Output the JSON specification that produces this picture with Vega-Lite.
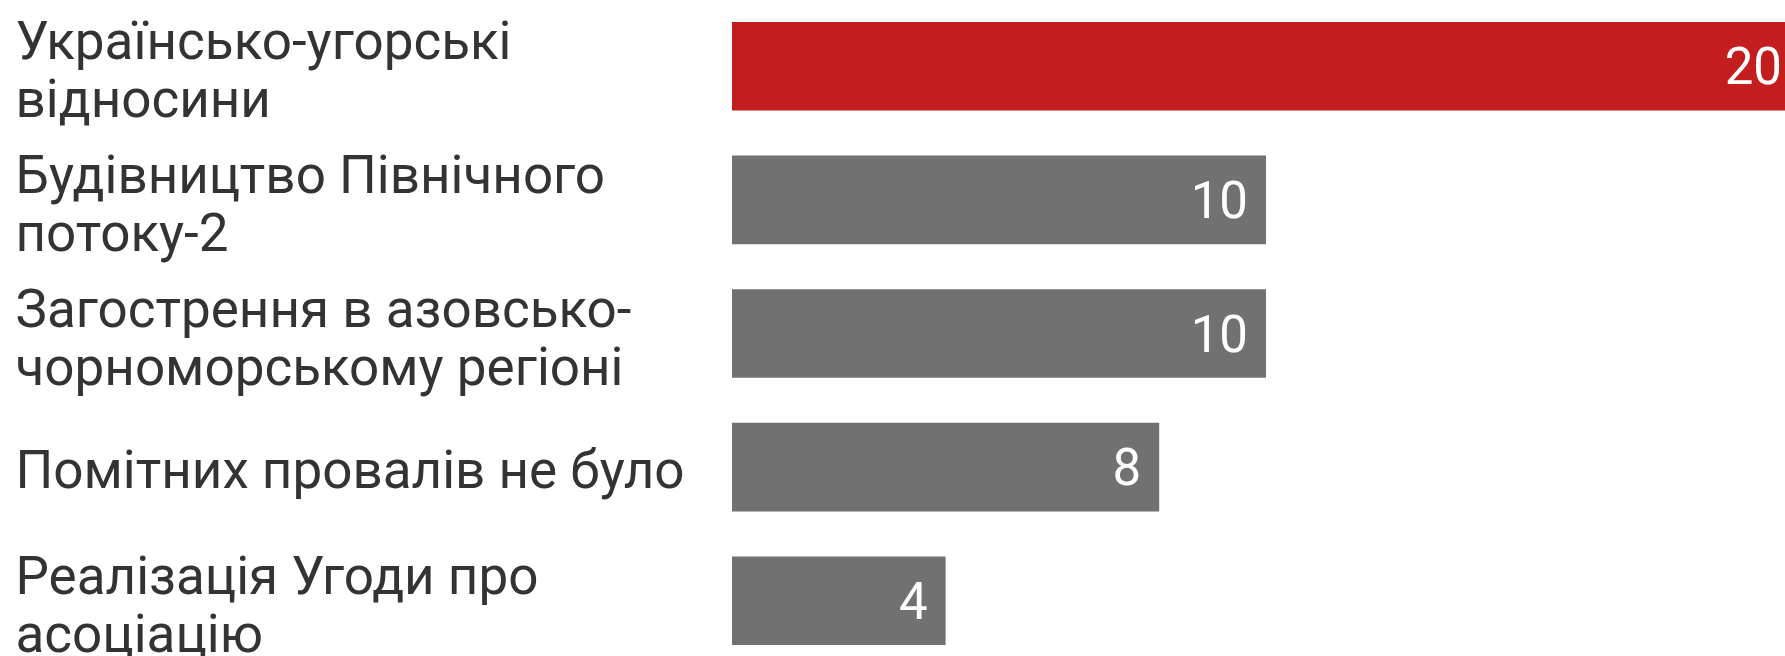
{
  "$schema": "https://vega.github.io/schema/vega-lite/v6.json",
  "autosize": {"type": "none"},
  "padding": {"left": 732, "top": 22, "right": 0, "bottom": 11},
  "width": 1068,
  "height": 623,
  "background": "white",
  "config": {"view": {"stroke": null}, "font": "Roboto"},
  "data": {"values": [
    {"label": "Українсько-угорські|відносини", "value": 20},
    {"label": "Будівництво Північного|потоку-2", "value": 10},
    {"label": "Загострення в азовсько-|чорноморському регіоні", "value": 10},
    {"label": "Помітних провалів не було", "value": 8},
    {"label": "Реалізація Угоди про|асоціацію", "value": 4}
  ]},
  "encoding": {
    "y": {
      "field": "label", "type": "nominal", "sort": null,
      "scale": {"paddingInner": 0.337, "paddingOuter": 0},
      "axis": {
        "title": null, "domain": false, "ticks": false,
        "labelAlign": "left", "labelPadding": 717, "labelBaseline": "middle",
        "labelFont": "Roboto", "labelFontSize": 53, "labelColor": "#333333",
        "labelLineHeight": 58, "labelLimit": 0,
        "labelOffset": {"condition": {"test": "indexof(datum.value, '|') >= 0", "value": -23}, "value": 5},
        "labelExpr": "split(datum.label, '|')"
      }
    },
    "x": {
      "field": "value", "type": "quantitative",
      "scale": {"domain": [0, 20], "nice": false},
      "axis": null
    }
  },
  "layer": [
    {
      "mark": {"type": "bar", "clip": false},
      "encoding": {
        "color": {
          "condition": {"test": "datum.value === 20", "value": "#C41D1D"},
          "value": "#717171"
        }
      }
    },
    {
      "mark": {"type": "text", "align": "right", "baseline": "middle", "dx": -18, "dy": 3, "font": "Roboto", "fontSize": 51, "color": "white"},
      "encoding": {"text": {"field": "value", "type": "quantitative"}}
    }
  ]
}
